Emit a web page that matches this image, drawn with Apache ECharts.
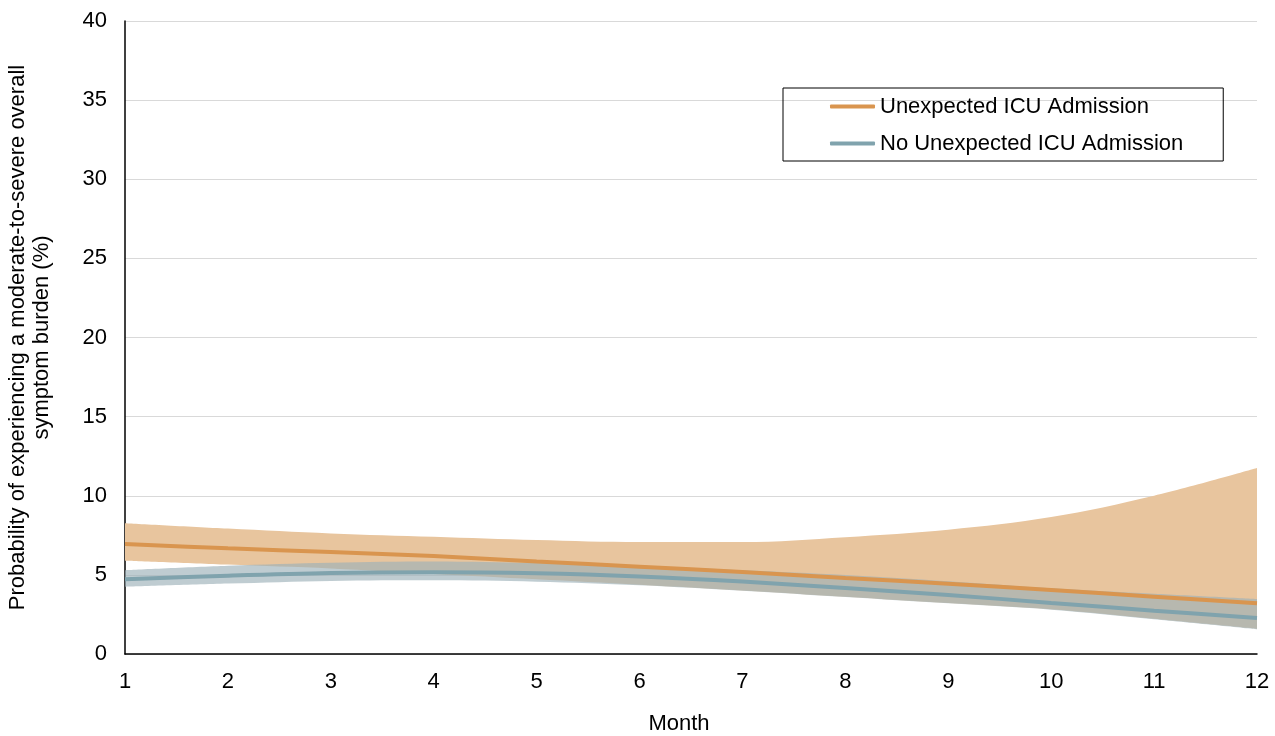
<!DOCTYPE html>
<html>
<head>
<meta charset="utf-8">
<script src="https://cdn.jsdelivr.net/npm/echarts@6/dist/echarts.min.js"></script>
<style>
html,body{margin:0;padding:0;background:#fff;}
#chart{width:1275px;height:736px;}
</style>
</head>
<body>
<div id="chart"></div>
<script>
const months = ['1','2','3','4','5','6','7','8','9','10','11','12'];
const yTicks = [0,5,10,15,20,25,30,35,40];

const icuMean  = [6.95, 6.68, 6.44, 6.19, 5.85, 5.52, 5.18, 4.80, 4.44, 4.04, 3.62, 3.20];
const icuUpper = [8.27, 7.93, 7.62, 7.41, 7.20, 7.07, 7.07, 7.38, 7.85, 8.65, 10.00, 11.75];
const icuLower = [5.90, 5.65, 5.40, 5.05, 4.72, 4.38, 4.02, 3.62, 3.22, 2.82, 2.22, 1.59];

const noIcuMean  = [4.72, 4.95, 5.12, 5.17, 5.10, 4.90, 4.58, 4.17, 3.73, 3.23, 2.74, 2.27];
const noIcuUpper = [5.30, 5.58, 5.77, 5.85, 5.75, 5.55, 5.30, 5.00, 4.60, 4.15, 3.80, 3.47];
const noIcuLower = [4.25, 4.45, 4.62, 4.66, 4.57, 4.35, 4.00, 3.60, 3.20, 2.80, 2.20, 1.57];

const FONT = '"Liberation Sans", Arial, sans-serif';
const FS = 22;
const diff = (u, l) => u.map((v, i) => +(v - l[i]).toFixed(4));

const chart = echarts.init(document.getElementById('chart'), null, {renderer: 'canvas'});
const bandBase = {type: 'line', symbol: 'none', smooth: 0.35, lineStyle: {opacity: 0, width: 0}, silent: true, z: 2};

chart.setOption({
  animation: false,
  textStyle: {fontFamily: FONT},
  grid: {left: 125, right: 18, top: 21, bottom: 82, containLabel: false, outerBoundsMode: 'none'},
  legend: {
    data: ['Unexpected ICU Admission', 'No Unexpected ICU Admission'],
    orient: 'vertical',
    left: 783, top: 88,
    padding: [7, 40, 6, 47],
    itemGap: 14,
    itemWidth: 45, itemHeight: 4,
    icon: 'roundRect',
    borderColor: '#000', borderWidth: 1,
    textStyle: {fontSize: FS, color: '#000', fontFamily: FONT, lineHeight: 23}
  },
  xAxis: {
    type: 'category', data: months, boundaryGap: false,
    name: 'Month', nameLocation: 'middle', nameGap: 59,
    nameTextStyle: {fontSize: FS, color: '#000', fontFamily: FONT, padding: [0, 24, 0, 0]},
    axisLine: {lineStyle: {color: '#000', width: 1.5}},
    axisTick: {show: false},
    axisLabel: {fontSize: FS, color: '#000', margin: 17, fontFamily: FONT},
    splitLine: {show: false}
  },
  yAxis: {
    type: 'value', min: 0, max: 40, interval: 5,
    name: 'Probability of experiencing a moderate-to-severe overall\nsymptom burden (%)',
    nameLocation: 'middle', nameGap: 71,
    nameTextStyle: {fontSize: FS, color: '#000', lineHeight: 24, fontFamily: FONT},
    axisLine: {show: true, lineStyle: {color: '#000', width: 1.5}},
    axisTick: {show: false},
    axisLabel: {fontSize: FS, color: '#000', margin: 18, fontFamily: FONT},
    splitLine: {lineStyle: {color: '#d9d9d9', width: 1.2}}
  },
  series: [
    Object.assign({}, bandBase, {name: 'icuLow', stack: 'icu', data: icuLower}),
    Object.assign({}, bandBase, {name: 'icuBand', stack: 'icu', data: diff(icuUpper, icuLower),
      areaStyle: {color: '#E8C59E', opacity: 1}}),
    Object.assign({}, bandBase, {name: 'noLow', stack: 'no', data: noIcuLower, z: 3}),
    Object.assign({}, bandBase, {name: 'noBand', stack: 'no', data: diff(noIcuUpper, noIcuLower), z: 3,
      areaStyle: {color: 'rgb(157,176,184)', opacity: 0.65}}),
    {name: 'Unexpected ICU Admission', type: 'line', data: icuMean, smooth: 0.35,
      symbol: 'none', z: 5, color: '#D9954F', lineStyle: {color: '#D9954F', width: 4}},
    {name: 'No Unexpected ICU Admission', type: 'line', data: noIcuMean, smooth: 0.35,
      symbol: 'none', z: 6, color: '#80A3AD', lineStyle: {color: '#80A3AD', width: 4}}
  ]
});
</script>
</body>
</html>
